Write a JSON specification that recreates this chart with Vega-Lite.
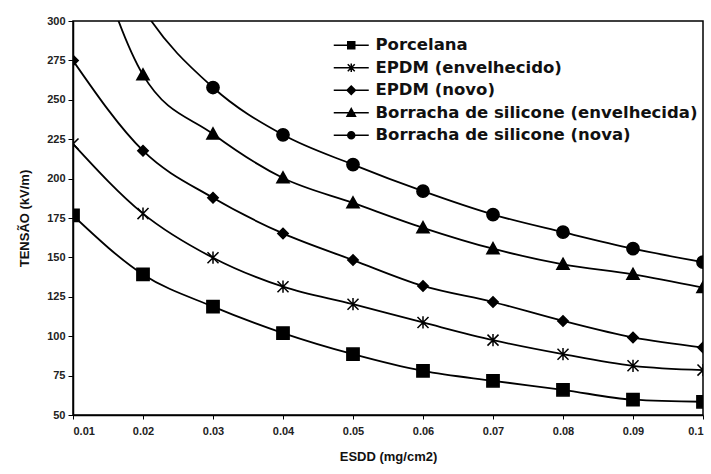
{
  "$schema": "https://vega.github.io/schema/vega-lite/v6.json",
  "width": 630,
  "height": 394,
  "autosize": {"type": "none"},
  "padding": {"left": 73, "top": 21, "right": 8, "bottom": 59},
  "background": "white",
  "config": {
    "view": {"stroke": "black", "strokeWidth": 1.5},
    "font": "Liberation Sans",
    "axis": {
      "domainColor": "black", "domainWidth": 1.5, "tickColor": "black", "tickWidth": 1,
      "labelFont": "Liberation Sans", "labelFontSize": 11, "labelColor": "#222", "labelFontWeight": "bold",
      "titleFont": "Liberation Sans", "titleFontSize": 13, "titleFontWeight": "bold", "titleColor": "#111",
      "grid": false
    }
  },
  "data": {"values": [
    {"serie": "Porcelana", "esdd": 0.01, "tensao": 176.6},
    {"serie": "Porcelana", "esdd": 0.02, "tensao": 139.2},
    {"serie": "Porcelana", "esdd": 0.03, "tensao": 118.8},
    {"serie": "Porcelana", "esdd": 0.04, "tensao": 102},
    {"serie": "Porcelana", "esdd": 0.05, "tensao": 88.6},
    {"serie": "Porcelana", "esdd": 0.06, "tensao": 78},
    {"serie": "Porcelana", "esdd": 0.07, "tensao": 71.7},
    {"serie": "Porcelana", "esdd": 0.08, "tensao": 66},
    {"serie": "Porcelana", "esdd": 0.09, "tensao": 59.7},
    {"serie": "Porcelana", "esdd": 0.1, "tensao": 58.4},
    {"serie": "EPDM (envelhecido)", "esdd": 0.01, "tensao": 222},
    {"serie": "EPDM (envelhecido)", "esdd": 0.02, "tensao": 177.8},
    {"serie": "EPDM (envelhecido)", "esdd": 0.03, "tensao": 149.8},
    {"serie": "EPDM (envelhecido)", "esdd": 0.04, "tensao": 131.4},
    {"serie": "EPDM (envelhecido)", "esdd": 0.05, "tensao": 120.3},
    {"serie": "EPDM (envelhecido)", "esdd": 0.06, "tensao": 108.7},
    {"serie": "EPDM (envelhecido)", "esdd": 0.07, "tensao": 97.5},
    {"serie": "EPDM (envelhecido)", "esdd": 0.08, "tensao": 88.6},
    {"serie": "EPDM (envelhecido)", "esdd": 0.09, "tensao": 81.2},
    {"serie": "EPDM (envelhecido)", "esdd": 0.1, "tensao": 78.5},
    {"serie": "EPDM (novo)", "esdd": 0.01, "tensao": 274.9},
    {"serie": "EPDM (novo)", "esdd": 0.02, "tensao": 217.7},
    {"serie": "EPDM (novo)", "esdd": 0.03, "tensao": 187.8},
    {"serie": "EPDM (novo)", "esdd": 0.04, "tensao": 165.2},
    {"serie": "EPDM (novo)", "esdd": 0.05, "tensao": 148.3},
    {"serie": "EPDM (novo)", "esdd": 0.06, "tensao": 131.9},
    {"serie": "EPDM (novo)", "esdd": 0.07, "tensao": 121.7},
    {"serie": "EPDM (novo)", "esdd": 0.08, "tensao": 109.7},
    {"serie": "EPDM (novo)", "esdd": 0.09, "tensao": 99.2},
    {"serie": "EPDM (novo)", "esdd": 0.1, "tensao": 92.8},
    {"serie": "Borracha de silicone (envelhecida)", "esdd": 0.01, "tensao": 390},
    {"serie": "Borracha de silicone (envelhecida)", "esdd": 0.02, "tensao": 265.8},
    {"serie": "Borracha de silicone (envelhecida)", "esdd": 0.03, "tensao": 228.3},
    {"serie": "Borracha de silicone (envelhecida)", "esdd": 0.04, "tensao": 200.4},
    {"serie": "Borracha de silicone (envelhecida)", "esdd": 0.05, "tensao": 184.6},
    {"serie": "Borracha de silicone (envelhecida)", "esdd": 0.06, "tensao": 168.8},
    {"serie": "Borracha de silicone (envelhecida)", "esdd": 0.07, "tensao": 155.5},
    {"serie": "Borracha de silicone (envelhecida)", "esdd": 0.08, "tensao": 145.6},
    {"serie": "Borracha de silicone (envelhecida)", "esdd": 0.09, "tensao": 139.2},
    {"serie": "Borracha de silicone (envelhecida)", "esdd": 0.1, "tensao": 130.8},
    {"serie": "Borracha de silicone (nova)", "esdd": 0.01, "tensao": 400},
    {"serie": "Borracha de silicone (nova)", "esdd": 0.02, "tensao": 308},
    {"serie": "Borracha de silicone (nova)", "esdd": 0.03, "tensao": 257.8},
    {"serie": "Borracha de silicone (nova)", "esdd": 0.04, "tensao": 227.8},
    {"serie": "Borracha de silicone (nova)", "esdd": 0.05, "tensao": 208.9},
    {"serie": "Borracha de silicone (nova)", "esdd": 0.06, "tensao": 192},
    {"serie": "Borracha de silicone (nova)", "esdd": 0.07, "tensao": 177.2},
    {"serie": "Borracha de silicone (nova)", "esdd": 0.08, "tensao": 166},
    {"serie": "Borracha de silicone (nova)", "esdd": 0.09, "tensao": 155.5},
    {"serie": "Borracha de silicone (nova)", "esdd": 0.1, "tensao": 147}
  ]},
  "encoding": {
    "x": {"field": "esdd", "type": "quantitative",
      "scale": {"domain": [0.01, 0.1], "nice": false, "zero": false},
      "axis": {"values": [0.01,0.02,0.03,0.04,0.05,0.06,0.07,0.08,0.09,0.1], "format": ".2~f", "title": "ESDD (mg/cm2)", "tickSize": 4, "labelPadding": 6, "titlePadding": 14}},
    "y": {"field": "tensao", "type": "quantitative",
      "scale": {"domain": [50, 300], "nice": false, "zero": false},
      "axis": {"values": [50,75,100,125,150,175,200,225,250,275,300], "title": "TENSÃO (kV/m)", "tickSize": 5, "labelPadding": 3, "titlePadding": 15}}
  },
  "layer": [
    {
      "mark": {"type": "line", "strokeWidth": 1.8, "interpolate": "monotone", "clip": true},
      "encoding": {
        "stroke": {"field": "serie", "type": "nominal",
          "scale": {
            "domain": ["Porcelana", "EPDM (envelhecido)", "EPDM (novo)", "Borracha de silicone (envelhecida)", "Borracha de silicone (nova)"],
            "range": ["black", "black", "black", "black", "black"]
          },
          "legend": {
            "orient": "none", "legendX": 270, "legendY": 16, "title": null,
            "labelFont": "DejaVu Sans", "labelFontSize": 16.5, "labelFontWeight": "bold", "labelColor": "#111", "labelLimit": 500,
            "symbolSize": 196, "symbolStrokeWidth": 1.5, "symbolOpacity": 1,
            "labelOffset": 16, "rowPadding": 5.5,
            "encode": {"symbols": {"update": {
              "shape": {"signal": "datum.value === 'Porcelana' ? 'M-2.5,0H2.5M-0.5,-0.5H0.5V0.5H-0.5Z' : datum.value === 'EPDM (envelhecido)' ? 'M-2.5,0H2.5M-0.5,-0.5L0.5,0.5M-0.5,0.5L0.5,-0.5M0,-0.6V0.6' : datum.value === 'EPDM (novo)' ? 'M-2.5,0H2.5M0,-0.6L0.6,0L0,0.6L-0.6,0Z' : datum.value === 'Borracha de silicone (envelhecida)' ? 'M-2.5,0H2.5M0,-0.6L0.6,0.5H-0.6Z' : 'M-2.5,0H2.5M0.5,0A0.5,0.5,0,1,1,-0.5,0A0.5,0.5,0,1,1,0.5,0Z'"},
              "fill": {"value": "black"}, "strokeWidth": {"value": 1.5}
            }}}
          }
        }
      }
    },
    {
      "mark": {"type": "point", "filled": true, "color": "black", "stroke": "black", "strokeWidth": 1.5, "size": 150, "opacity": 1, "clip": true},
      "encoding": {
        "shape": {"field": "serie", "type": "nominal",
          "scale": {
            "range": ["M0,-1L1,0.8H-1Z", "circle", "M-0.9,-0.9L0.9,0.9M-0.9,0.9L0.9,-0.9M0,-1V1", "M0,-0.85L0.85,0L0,0.85L-0.85,0Z", "M-1,-1H1V1H-1Z"]
          },
          "legend": null
        }
      }
    }
  ]
}
